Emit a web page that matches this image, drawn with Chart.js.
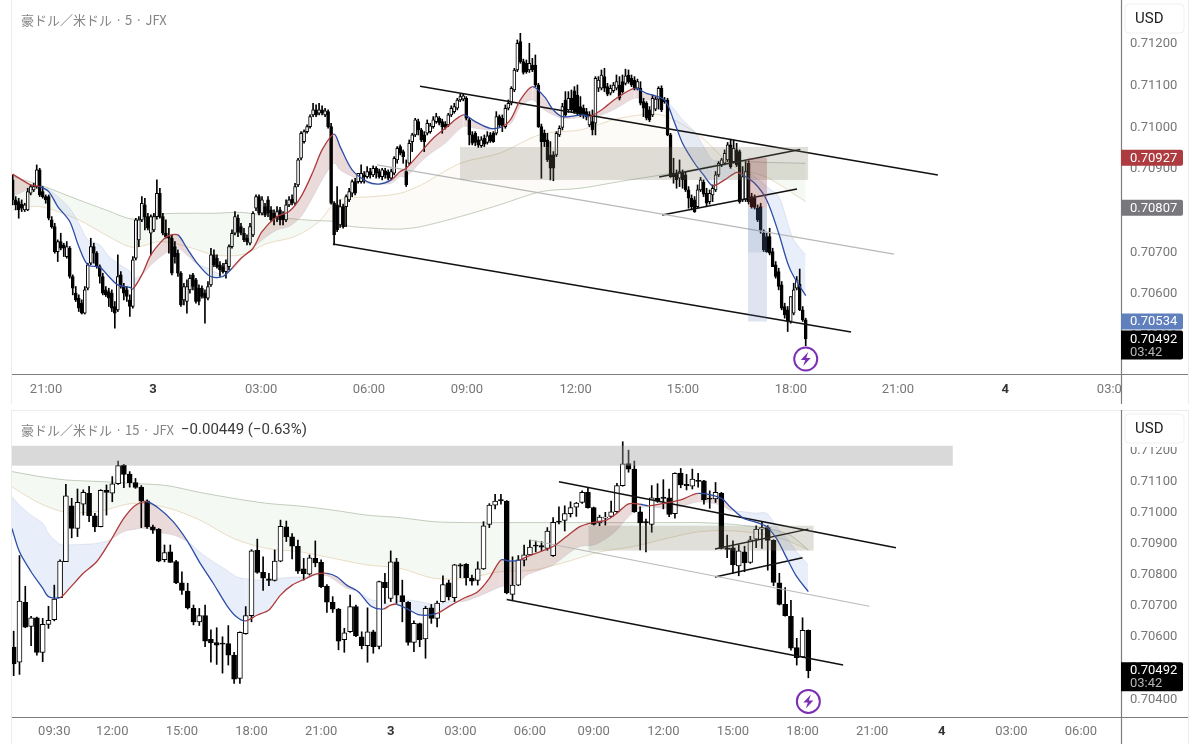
<!DOCTYPE html>
<html lang="ja">
<head>
<meta charset="utf-8">
<title>豪ドル／米ドル</title>
<script src="https://cdn.jsdelivr.net/npm/chart.js@4/dist/chart.umd.js"></script>
<style>
  html, body { margin: 0; background: #fff; overflow: hidden; }
  canvas { display: block; }
</style>
</head>
<body>
<canvas id="chart5" width="1200" height="404"></canvas>
<canvas id="chart15" width="1200" height="340"></canvas>
<script>
// all prices are in points, 1 point = 0.00001

// 5 minute candles
const open5 = [
  70874,70826,70822,70816,70802,70802,70842,70850,70858,70898,
  70846,70834,70834,70778,70762,70702,70726,70718,70690,70710,
  70642,70602,70590,70578,70554,70614,70674,70714,70698,70666,
  70642,70610,70606,70602,70570,70562,70646,70618,70610,70586,
  70570,70686,70730,70778,70814,70786,70746,70754,70786,70842,
  70786,70746,70738,70734,70714,70698,70650,70586,70582,70610,
  70646,70634,70614,70614,70602,70590,70622,70694,70686,70670,
  70666,70654,70666,70714,70746,70782,70762,70746,70734,70722,
  70742,70806,70834,70794,70810,70826,70802,70794,70786,70802,
  70790,70778,70814,70828,70818,70862,70926,70966,70990,71002,
  71030,71042,71034,71042,71030,71038,71002,70818,70814,70766,
  70810,70810,70826,70842,70870,70870,70870,70886,70882,70894,
  70886,70902,70894,70882,70896,70892,70878,70890,70922,70954,
  70942,70894,70914,70966,70982,71014,70994,70982,70986,70990,
  71002,71014,71022,71014,71008,71006,71030,71038,71046,71066,
  71068,71070,71018,70982,70986,70970,70956,70974,70964,70982,
  70986,70986,71026,71022,71002,71046,71058,71090,71138,71206,
  71158,71154,71138,71150,71150,71102,71002,70986,70970,70934,
  70934,70934,70982,71000,71066,71042,71070,71088,71078,71050,
  71046,71038,71006,71014,71010,71094,71094,71122,71098,71082,
  71088,71094,71102,71110,71106,71126,71118,71114,71094,71094,
  71062,71058,71042,71030,71044,71068,71094,71066,71066,70982,
  70890,70888,70878,70892,70886,70850,70830,70826,70810,70850,
  70868,70842,70822,70838,70850,70886,70910,70914,70922,70958,
  70918,70946,70942,70826,70826,70914,70834,70830,70806,70810,
  70746,70738,70738,70702,70670,70654,70622,70570,70562,70534,
  70554,70614,70624,70562,70538
];
const high5 = [
  70886,70834,70830,70826,70818,70854,70862,70866,70910,70902,
  70858,70838,70838,70786,70770,70730,70746,70722,70726,70714,
  70646,70618,70598,70586,70618,70674,70734,70722,70702,70670,
  70650,70618,70614,70610,70582,70694,70654,70626,70618,70598,
  70690,70782,70786,70834,70830,70794,70790,70794,70874,70854,
  70794,70778,70758,70742,70726,70706,70654,70626,70634,70646,
  70650,70638,70622,70620,70610,70630,70710,70706,70694,70678,
  70674,70682,70718,70754,70798,70790,70770,70758,70742,70770,
  70798,70838,70838,70834,70818,70834,70810,70802,70810,70808,
  70798,70826,70834,70838,70866,70926,70990,70994,71006,71030,
  71058,71054,71058,71052,71046,71042,71010,70822,70858,70826,
  70816,70838,70854,70874,70878,70890,70910,70894,70906,70902,
  70908,70906,70900,70902,70902,70898,70900,70930,70954,70958,
  70946,70922,70970,70986,71022,71020,70998,70990,71018,71010,
  71026,71034,71026,71020,71014,71034,71052,71058,71070,71080,
  71080,71074,71022,70990,70990,70978,70978,70982,70990,70988,
  70990,71038,71030,71030,71054,71066,71098,71142,71210,71226,
  71164,71162,71202,71166,71174,71106,71008,70994,70986,70966,
  70942,70990,71004,71058,71086,71086,71090,71098,71102,71074,
  71054,71046,71038,71042,71122,71122,71138,71142,71106,71102,
  71108,71126,71122,71126,71140,71138,71126,71122,71116,71110,
  71070,71062,71050,71078,71074,71098,71100,71072,71070,70986,
  70926,70898,70922,70898,70894,70858,70838,70834,70862,70880,
  70874,70854,70850,70862,70894,70918,70926,70946,70964,70972,
  70970,70962,70946,70906,70918,70920,70842,70838,70814,70818,
  70754,70746,70758,70710,70678,70662,70630,70578,70570,70594,
  70626,70642,70660,70570,70542
];
const low5 = [
  70814,70802,70782,70798,70798,70800,70838,70846,70854,70834,
  70830,70818,70778,70758,70698,70678,70706,70690,70686,70638,
  70598,70582,70558,70552,70552,70610,70670,70674,70662,70626,
  70598,70594,70570,70558,70518,70558,70614,70586,70582,70546,
  70566,70682,70714,70774,70754,70754,70694,70750,70780,70782,
  70742,70734,70698,70646,70674,70642,70570,70574,70554,70602,
  70610,70578,70574,70590,70530,70586,70618,70666,70662,70642,
  70650,70638,70658,70710,70742,70738,70742,70726,70718,70718,
  70738,70800,70790,70790,70786,70786,70774,70766,70774,70766,
  70766,70774,70810,70814,70814,70858,70922,70962,70986,70998,
  71026,71026,71030,71030,71026,70998,70816,70718,70750,70760,
  70758,70762,70822,70834,70838,70866,70866,70866,70878,70878,
  70882,70878,70878,70874,70878,70874,70874,70886,70914,70934,
  70914,70858,70910,70942,70978,70982,70966,70942,70982,70986,
  70998,71010,71006,70986,70996,71002,71026,71034,71042,71062,
  71064,71018,70958,70958,70956,70952,70952,70954,70960,70964,
  70964,70982,71002,70990,70998,71042,71054,71086,71134,71154,
  71128,71130,71132,71134,71098,71000,70878,70954,70918,70874,
  70872,70930,70978,70994,71026,71036,71036,71034,71030,71026,
  71022,71018,71002,70982,70982,71086,71090,71086,71076,71078,
  71084,71090,71066,71082,71102,71106,71098,71090,71090,71054,
  71026,71018,71014,71026,71040,71044,71038,71058,70980,70880,
  70866,70854,70858,70854,70846,70806,70802,70796,70806,70846,
  70834,70810,70816,70822,70846,70882,70906,70910,70918,70902,
  70914,70906,70818,70822,70822,70816,70806,70804,70774,70746,
  70702,70700,70694,70666,70638,70610,70562,70542,70510,70530,
  70550,70610,70560,70534,70476
];
const close5 = [
  70826,70814,70802,70806,70814,70846,70858,70858,70898,70838,
  70834,70826,70782,70762,70702,70726,70710,70710,70714,70642,
  70614,70586,70566,70554,70610,70670,70714,70698,70666,70642,
  70602,70598,70590,70566,70554,70642,70618,70602,70594,70570,
  70682,70778,70778,70818,70786,70758,70786,70786,70842,70786,
  70746,70738,70734,70650,70690,70650,70574,70618,70618,70638,
  70618,70582,70582,70594,70590,70618,70694,70670,70666,70658,
  70654,70674,70714,70746,70786,70750,70746,70730,70726,70762,
  70794,70834,70794,70826,70790,70794,70778,70782,70798,70778,
  70778,70814,70826,70818,70858,70922,70986,70990,71002,71026,
  71042,71030,71042,71034,71040,71002,70818,70742,70754,70810,
  70762,70834,70846,70870,70842,70890,70890,70882,70894,70886,
  70902,70890,70882,70898,70886,70878,70894,70926,70950,70938,
  70930,70862,70962,70982,71018,70994,70970,70966,71010,71004,
  71018,71026,71010,71002,71000,71030,71046,71050,71066,71074,
  71076,71022,70982,70962,70964,70958,70970,70960,70980,70968,
  70966,71026,71006,71004,71046,71058,71094,71138,71202,71158,
  71132,71134,71154,71138,71102,71002,70966,70966,70922,70902,
  70902,70986,70998,71050,71030,71070,71042,71038,71034,71030,
  71030,71026,71030,70994,71118,71114,71126,71094,71080,71094,
  71102,71110,71070,71086,71124,71110,71102,71094,71110,71058,
  71046,71022,71018,71070,71068,71094,71042,71062,70982,70882,
  70882,70874,70894,70874,70850,70830,70810,70798,70850,70874,
  70840,70818,70842,70854,70886,70914,70922,70938,70958,70906,
  70950,70910,70822,70882,70894,70822,70810,70808,70778,70754,
  70706,70702,70698,70666,70642,70618,70566,70550,70534,70594,
  70610,70634,70562,70538,70492
];

// 5 minute moving averages, x is the bar number
const ribbonX5 = [
  0,6,9,12,15,19,22,25,29,32,35,39,40,43,46,50,52,55,58,61,65,67,70,73,76,80,83,88,92,96,100,103,107,109,113,118,122,126,129,
  131,136,140,144,150,154,159,163,166,169,173,177,180,183,187,190,192,196,201,207,211,217,220,223,227,230,233,237,241,243,247,251,255,258,260,264
];
const fast5 = [
  70888,70862,70858,70846,70810,70774,70714,70670,70664,70642,70622,70616,70612,70646,70694,70730,70740,70742,70710,70678,70646,70640,70642,70662,70686,70710,70750,70786,70798,70834,70894,70946,70984,70954,70898,70870,70864,70874,70894,
  70902,70942,70974,70998,71030,71014,70998,71002,71022,71066,71098,71074,71042,71026,71028,71030,71026,71042,71070,71094,71082,71066,71018,70962,70914,70886,70860,70874,70892,70886,70866,70826,70746,70674,70642,70596
];
const slow5 = [
  70834,70854,70858,70850,70834,70806,70770,70730,70718,70690,70674,70654,70638,70646,70670,70694,70702,70710,70694,70674,70662,70654,70646,70658,70682,70710,70730,70754,70762,70786,70834,70874,70914,70898,70882,70866,70864,70866,70882,
  70882,70918,70942,70962,71002,70998,70994,71002,71010,71050,71066,71042,71030,71022,71022,71026,71026,71030,71046,71070,71066,71062,71046,71018,70990,70954,70922,70918,70894,70898,70882,70858,70834,70770,70730,70694
];
const trend5 = [
  1,1,-1,-1,-1,-1,-1,-1,-1,-1,-1,-1,1,1,1,1,1,-1,-1,-1,-1,-1,-1,1,1,1,1,1,1,1,1,1,-1,-1,-1,-1,-1,1,1,
  1,1,1,1,-1,-1,-1,1,1,1,-1,-1,-1,-1,-1,-1,1,1,1,-1,-1,-1,-1,-1,-1,-1,1,1,1,-1,-1,-1,-1,-1,-1,-1
];
const cloudX5 = [0,9,22,31,40,49,58,67,76,85,94,102,107,111,120,129,136,149,162,176,189,202,216,229,240,251,264];
const sage5 = [70882,70862,70826,70802,70780,70792,70794,70794,70796,70788,70780,70776,70774,70764,70758,70756,70762,70786,70814,70846,70854,70870,70886,70902,70918,70916,70914];
const tan5 = [70802,70810,70778,70742,70712,70726,70714,70694,70694,70722,70738,70774,70818,70830,70834,70842,70862,70914,70938,70984,70994,71022,71030,70978,70906,70880,70822];

// 5 minute drawings: trend lines and zones
const lineX5 = [[135.6,308],[106.6,279.1],[121.3,293.4],[215.2,262.2],[216.2,261.1]];
const lineY5 = [[71099,70886],[70720,70509],[70910,70696],[70881,70947],[70790,70852]];
const zoneX5 = [[148.9,264.8],[244.8,251.1],[244.8,251.1],[244.8,251.1]];
const zoneY5 = [[70953,70874],[70927,70807],[70807,70534],[70807,70700]];

const tickX5 = [11.1,46.7,82.7,118.6,151.2,187.4,223.1,259.1,294.7,330.4,366.3];
const tickTime5 = ["21:00","3","03:00","06:00","09:00","12:00","15:00","18:00","21:00","4","03:00"];
const tickPrice5 = [71200,71100,71000,70900,70800,70700,70600,70500];

// 15 minute candles
const open15 = [
  70568,70519,70712,70634,70662,70551,70641,70656,70727,70842,
  71022,70949,71027,71062,70990,70955,71072,71063,71093,71153,
  71124,71097,71081,71038,70954,70946,70849,70874,70843,70774,
  70748,70692,70649,70669,70593,70582,70581,70579,70542,70467,
  70611,70669,70879,70808,70787,70782,70844,70954,70922,70892,
  70819,70802,70853,70840,70764,70712,70690,70592,70617,70698,
  70601,70572,70617,70570,70776,70724,70842,70733,70712,70583,
  70643,70594,70694,70660,70714,70774,70727,70832,70834,70789,
  70782,70819,70962,71024,71042,71037,70737,70767,70847,70864,
  70896,70894,70885,70862,70973,70975,70997,71018,71033,71065,
  71016,70967,70982,70988,71003,71087,71158,71140,71003,70971,
  70962,71046,71050,71048,70997,71127,71091,71085,71104,71102,
  71046,71044,71063,70887,70887,70829,70874,70840,70915,70947,
  70952,70911,70774,70705,70667,70566,70536,70622
];
const high15 = [
  70619,70862,70763,70667,70664,70660,70699,70767,70848,71091,
  71046,71076,71073,71085,70998,71074,71089,71116,71166,71155,
  71132,71110,71087,71041,70960,70949,70896,70896,70847,70810,
  70773,70703,70692,70703,70623,70630,70601,70637,70551,70617,
  70698,70881,70915,70858,70805,70880,70976,70973,70933,70912,
  70853,70864,70909,70848,70769,70730,70692,70628,70735,70703,
  70617,70694,70622,70780,70805,70877,70853,70783,70714,70652,
  70645,70699,70705,70716,70797,70783,70834,70836,70836,70799,
  70842,70971,71029,71059,71059,71039,70858,70862,70896,70912,
  70909,70907,70952,70984,71019,71022,71035,71033,71070,71080,
  71018,70992,71001,71037,71094,71228,71201,71166,71019,70979,
  71087,71093,71106,71076,71128,71142,71123,71140,71126,71104,
  71070,71097,71065,70928,70909,70896,70892,70924,70958,70969,
  70958,70913,70805,70759,70718,70596,70662,70623
];
const low15 = [
  70476,70480,70630,70572,70542,70521,70628,70652,70727,70842,
  70919,70923,70992,70971,70939,70954,70992,71035,71091,71080,
  71082,71078,70952,70949,70933,70842,70842,70840,70772,70737,
  70690,70639,70637,70569,70519,70512,70484,70510,70451,70451,
  70609,70649,70805,70750,70765,70780,70842,70907,70851,70805,
  70783,70799,70826,70759,70679,70679,70559,70551,70615,70601,
  70562,70519,70548,70562,70708,70714,70708,70649,70574,70553,
  70569,70532,70644,70633,70712,70719,70714,70791,70767,70767,
  70767,70817,70952,71012,71027,70739,70719,70765,70829,70862,
  70874,70877,70879,70859,70964,70941,70986,70988,71030,71014,
  70960,70958,70960,70986,71001,71085,71130,71001,70880,70874,
  70937,71033,71012,70987,70982,71080,71073,71076,71082,71027,
  71014,71033,70883,70855,70805,70797,70810,70837,70887,70885,
  70815,70765,70703,70667,70558,70510,70534,70469
];
const close15 = [
  70514,70716,70632,70662,70551,70641,70654,70722,70844,71054,
  70949,71033,71065,70990,70954,71072,71065,71093,71151,71123,
  71096,71081,71037,70954,70944,70844,70872,70840,70774,70750,
  70694,70649,70669,70587,70581,70574,70577,70542,70465,70615,
  70669,70877,70808,70789,70782,70844,70956,70922,70892,70812,
  70804,70855,70838,70762,70712,70690,70587,70614,70698,70604,
  70572,70617,70569,70778,70759,70842,70735,70714,70583,70644,
  70592,70692,70660,70709,70769,70729,70832,70828,70791,70780,
  70819,70958,71024,71037,71038,70742,70767,70848,70864,70889,
  70892,70889,70941,70969,70969,70997,71016,71031,71065,71016,
  70962,70986,70986,71003,71087,71157,71140,71003,70967,70967,
  71048,71037,71046,70994,71126,71089,71087,71108,71100,71041,
  71043,71065,70885,70882,70832,70877,70838,70913,70947,70952,
  70911,70776,70705,70669,70564,70534,70622,70492
];

// 15 minute moving averages
const ribbonX15 = [
  -0.3,1,3,5,6,8,9.5,12,14.3,16.6,19,21,23,25,27.5,30,32,34.4,36.7,38.4,40,42,44,46,48,50.5,52,54,55.7,57.4,59.4,61.7,63.7,65,66,
  67.7,70,73,75,77.5,80,82,84,85.6,87.3,88.4,90.7,93,95.3,97.6,100,102.2,104,106,108,109.4,112,115,118,122,123.5,125.8,128,129.8,131.5,133.3,135,137
];
const fast15 = [
  70949,70874,70810,70757,70730,70727,70754,70805,70842,70907,70982,71024,71035,71014,70971,70907,70842,70773,70703,70665,70652,70671,70687,70735,70767,70789,70802,70805,70794,70767,70746,70698,70690,70703,70705,
  70692,70671,70676,70698,70724,70746,70789,70848,70844,70848,70858,70874,70891,70923,70955,70969,70976,70998,71028,71027,71022,71030,71041,71062,71046,71019,70982,70969,70955,70917,70853,70794,70746
];
const slow15 = [
  71051,71024,70992,70966,70933,70898,70896,70898,70901,70912,70939,70947,70949,70937,70928,70907,70874,70842,70815,70794,70787,70783,70783,70789,70792,70794,70799,70797,70778,70757,70746,70719,70716,70703,70714,
  70719,70714,70703,70714,70714,70730,70746,70762,70767,70778,70799,70815,70832,70864,70891,70896,70917,70944,70987,71014,71019,71014,71019,71035,71024,71008,71003,70998,70998,70955,70917,70874,70832
];
const trend15 = [
  -1,-1,-1,-1,-1,1,1,1,1,1,1,1,-1,-1,-1,-1,-1,-1,-1,-1,1,1,1,1,1,1,1,-1,-1,-1,-1,-1,1,1,-1,
  -1,-1,1,1,1,1,1,-1,-1,1,1,1,1,1,1,1,1,1,1,-1,1,1,1,-1,-1,-1,-1,-1,-1,-1,-1,-1,-1
];
const cloudX15 = [-0.3,4.5,9.1,14.9,20.6,26.4,32.1,37.9,43.6,49.4,55.1,60.9,66.6,72.4,78.1,83.8,89.6,95.3,101.1,106.8,112.6,118.3,124.1,129.8,133.8,137];
const sage15 = [71132,71116,71105,71100,71094,71087,71065,71046,71030,71021,71008,70992,70984,70971,70968,70968,70968,70968,70968,70968,70968,70968,70962,70949,70928,70880];
const tan15 = [71083,71030,71001,71005,71030,71016,70976,70917,70885,70874,70853,70832,70821,70789,70789,70810,70815,70842,70874,70891,70917,70939,70941,70928,70907,70880];

// 15 minute drawings
const lineX15 = [[94,152.1],[85,143],[89,147.5],[120.9,137],[120.9,136]];
const lineY15 = [[71099,70887],[70721,70510],[70912,70699],[70883,70947],[70793,70855]];
const zoneX15 = [[-0.3,161.9],[99.1,137.9]];
const zoneY15 = [[71215,71151],[70958,70878]];

const tickX15 = [7,17,29,41,53,65,77,89,100,112,124,136,148,160,172,184];
const tickTime15 = ["09:30","12:00","15:00","18:00","21:00","3","03:00","06:00","09:00","12:00","15:00","18:00","21:00","4","03:00","06:00"];
const tickPrice15 = [71200,71100,71000,70900,70800,70700,70600,70500,70400];

const fontLatin = 'Roboto, "Liberation Sans", sans-serif';
const fontTitle = '"Noto Sans CJK JP", Roboto, sans-serif';
const blueLine = '#2c4da6', redLine = '#ae3a3c';

const fmtPrice = v => (v / 100000).toFixed(5);

function candleDatasets(open, high, low, close, bodyWidth) {
  const wicks = high.map((h, i) => ({ x: i, y: [low[i], h] }));
  const bodies = open.map((o, i) => ({ x: i, y: [o, close[i]] }));
  const fills = open.map((o, i) => close[i] > o ? '#fff' : '#000');
  return [
    { type: 'bar', data: wicks, order: 3, grouped: false, barThickness: 1, backgroundColor: '#000', borderWidth: 0 },
    { type: 'bar', data: bodies, order: 2, grouped: false, barThickness: bodyWidth, minBarLength: 1,
      backgroundColor: fills, borderColor: '#000', borderWidth: 1, borderSkipped: false }
  ];
}

function toPoints(xs, ys) {
  return xs.map((x, i) => ({ x, y: ys[i] }));
}

// plugin for everything the library has no element for: zones, frame, price tags, titles
function panelPlugin(p) {
  const tag = (ctx, y, h, color) => {
    ctx.fillStyle = color;
    ctx.beginPath();
    ctx.roundRect(1121, y, 62, h, [0, 2, 2, 0]);
    ctx.fill();
  };
  return {
    id: 'panel',
    afterDatasetsDraw(chart) {
      const { ctx, scales: { x, y } } = chart;
      ctx.save();
      p.zoneX.forEach((zx, i) => {
        const left = x.getPixelForValue(zx[0]), right = x.getPixelForValue(zx[1]);
        const top = y.getPixelForValue(p.zoneY[i][0]), bottom = y.getPixelForValue(p.zoneY[i][1]);
        ctx.fillStyle = p.zoneColors[i];
        ctx.fillRect(left, top, right - left, bottom - top);
      });
      ctx.restore();
    },
    afterDraw(chart) {
      const { ctx, scales: { x, y }, chartArea: area } = chart;
      const h = chart.height;
      ctx.save();

      // hide what runs past the price axis below the plot
      ctx.fillStyle = '#fff';
      ctx.fillRect(1122, area.bottom + 1, 78, h - area.bottom);

      // frame
      ctx.strokeStyle = '#ececec';
      ctx.lineWidth = 1;
      ctx.beginPath();
      ctx.moveTo(11.5, area.top);
      ctx.lineTo(11.5, h);
      ctx.moveTo(1188.5, area.top);
      ctx.lineTo(1188.5, h);
      if (p.topRule) {
        ctx.moveTo(12, area.top + 0.5);
        ctx.lineTo(1188, area.top + 0.5);
      }
      ctx.stroke();
      ctx.strokeStyle = '#7d7d7d';
      ctx.lineWidth = 1.2;
      ctx.beginPath();
      ctx.moveTo(12, area.bottom + 0.5);
      ctx.lineTo(1188, area.bottom + 0.5);
      ctx.moveTo(1121.5, area.top);
      ctx.lineTo(1121.5, h);
      ctx.stroke();

      // price tags
      ctx.textBaseline = 'middle';
      ctx.font = '13px ' + fontLatin;
      p.tagPrices.forEach((v, i) => {
        const py = y.getPixelForValue(v);
        tag(ctx, py - 8, 16, p.tagColors[i]);
        ctx.fillStyle = '#fff';
        ctx.fillText(fmtPrice(v), 1130, py + 0.5);
      });
      const last = y.getPixelForValue(p.lastPrice);
      tag(ctx, last - 8.5, 29, '#000');
      ctx.fillStyle = '#fff';
      ctx.fillText(fmtPrice(p.lastPrice), 1130, last + 0.5);
      ctx.fillStyle = '#b5b5b5';
      ctx.fillText(p.countdown, 1130, last + 13.5);

      // currency button, its white backing also covers the top of a price label
      ctx.fillStyle = '#fff';
      ctx.fillRect(1123, p.usdTop, 64, 33);
      ctx.strokeStyle = '#f0f0f0';
      ctx.beginPath();
      ctx.roundRect(1125, p.usdTop, 59, 29, 4);
      ctx.fill();
      ctx.lineWidth = 1;
      ctx.stroke();
      ctx.fillStyle = '#222';
      ctx.font = '15px ' + fontLatin;
      ctx.fillText('USD', 1135, p.usdTop + 15);

      // header
      ctx.font = '13px ' + fontTitle;
      ctx.fillStyle = '#858585';
      ctx.fillText(p.title, 21, p.titleY);
      if (p.change) {
        ctx.font = '15px ' + fontLatin;
        ctx.fillStyle = '#3a3a3a';
        ctx.fillText(p.change, 181, p.titleY);
      }

      // lightning marker under the last bar
      const mx = x.getPixelForValue(p.markerBar), my = y.getPixelForValue(p.markerPrice);
      ctx.strokeStyle = '#7b2fb3';
      ctx.lineWidth = 2;
      ctx.beginPath();
      ctx.arc(mx, my, 11.5, 0, Math.PI * 2);
      ctx.stroke();
      ctx.fillStyle = '#7b2fb3';
      ctx.beginPath();
      ctx.moveTo(mx + 2.5, my - 7);
      ctx.lineTo(mx - 5, my + 1);
      ctx.lineTo(mx - 0.5, my + 1);
      ctx.lineTo(mx - 2.5, my + 7);
      ctx.lineTo(mx + 5, my - 1);
      ctx.lineTo(mx + 0.5, my - 1);
      ctx.closePath();
      ctx.fill();
      ctx.restore();
    }
  };
}

function drawChart(id, p) {
  const datasets = [
    { type: 'line', data: toPoints(p.cloudX, p.sage), order: 6, borderColor: 'rgba(165,180,155,0.65)', borderWidth: 1,
      pointRadius: 0, tension: 0.3, fill: { target: 1, above: 'rgba(205,225,195,0.2)', below: 'rgba(235,225,195,0.14)' } },
    { type: 'line', data: toPoints(p.cloudX, p.tan), order: 5, borderColor: 'rgba(222,198,160,0.6)', borderWidth: 1,
      pointRadius: 0, tension: 0.3 },
    { type: 'line', data: toPoints(p.ribbonX, p.slow), order: 4, borderColor: 'rgba(175,180,205,0.3)', borderWidth: 1,
      pointRadius: 0, tension: 0.3, fill: { target: 5, above: 'rgba(120,155,225,0.16)', below: 'rgba(165,85,85,0.22)' } },
    ...candleDatasets(p.open, p.high, p.low, p.close, p.bodyWidth),
    { type: 'line', data: toPoints(p.ribbonX, p.fast), order: 0, borderWidth: 1.3, pointRadius: 0, tension: 0.3,
      borderColor: blueLine,
      segment: { borderColor: c => p.trend[c.p0DataIndex] > 0 ? redLine : blueLine } }
  ];
  p.lineX.forEach((lx, i) => {
    const isMid = i === 2;
    datasets.push({
      type: 'line', order: 1, pointRadius: 0,
      data: toPoints(lx, p.lineY[i]),
      borderColor: isMid ? '#b9b9b9' : '#111',
      borderWidth: isMid ? 1.2 : 1.5
    });
  });

  new Chart(document.getElementById(id), {
    type: 'bar',
    data: { datasets },
    plugins: [panelPlugin(p)],
    options: {
      responsive: false,
      animation: false,
      events: [],
      layout: { autoPadding: false, padding: { left: 12, right: 0, top: p.paddingTop, bottom: 0 } },
      plugins: { legend: { display: false }, tooltip: { enabled: false } },
      scales: {
        x: {
          type: 'linear',
          offset: false,
          min: p.xMin,
          max: p.xMax,
          grid: { display: false, drawTicks: false },
          border: { display: false },
          afterBuildTicks: s => { s.ticks = p.tickX.map(value => ({ value })); },
          // no extra margin for labels, the plot area is fixed
          afterFit: s => { s.height = p.axisHeight; s.paddingLeft = 0; s.paddingRight = 0; },
          ticks: {
            autoSkip: false,
            maxRotation: 0,
            padding: p.xPadding,
            callback: v => p.tickTime[p.tickX.indexOf(v)],
            color: c => (c.tick && p.tickTime[p.tickX.indexOf(c.tick.value)].length === 1) ? '#333' : '#777',
            font: c => ({
              family: fontLatin,
              size: 13,
              weight: (c.tick && p.tickTime[p.tickX.indexOf(c.tick.value)].length === 1) ? 'bold' : 'normal'
            })
          }
        },
        y: {
          position: 'right',
          min: p.yMin,
          max: p.yMax,
          grid: { display: false, drawTicks: false },
          border: { display: false },
          afterBuildTicks: s => { s.ticks = p.tickPrice.map(value => ({ value })); },
          afterFit: s => { s.width = 79; s.paddingTop = 0; s.paddingBottom = 0; },
          ticks: {
            padding: 9,
            color: '#777',
            font: { family: fontLatin, size: 13 },
            callback: v => fmtPrice(v)
          }
        }
      }
    }
  });
}

drawChart('chart5', {
  open: open5, high: high5, low: low5, close: close5, bodyWidth: 3,
  ribbonX: ribbonX5, fast: fast5, slow: slow5, trend: trend5,
  cloudX: cloudX5, sage: sage5, tan: tan5,
  lineX: lineX5, lineY: lineY5,
  zoneX: zoneX5, zoneY: zoneY5,
  zoneColors: ['rgba(125,120,100,0.24)', 'rgba(150,70,70,0.3)', 'rgba(90,125,185,0.2)', 'rgba(60,85,130,0.1)'],
  tickX: tickX5, tickTime: tickTime5, tickPrice: tickPrice5,
  xMin: -0.23, xMax: 368.96, yMin: 70408, yMax: 71306,
  paddingTop: 0, axisHeight: 30, xPadding: 8,
  tagPrices: [70927, 70807, 70534], tagColors: ['#ad3b3f', '#77777c', '#5f7fbd'],
  lastPrice: 70492, countdown: '03:42',
  usdTop: 4, title: '豪ドル／米ドル · 5 · JFX', titleY: 20,
  markerBar: 264, markerPrice: 70444
});

drawChart('chart15', {
  open: open15, high: high15, low: low15, close: close15, bodyWidth: 5,
  ribbonX: ribbonX15, fast: fast15, slow: slow15, trend: trend15,
  cloudX: cloudX15, sage: sage15, tan: tan15,
  lineX: lineX15, lineY: lineY15,
  zoneX: zoneX15, zoneY: zoneY15,
  zoneColors: ['rgba(160,160,160,0.4)', 'rgba(125,120,100,0.24)'],
  tickX: tickX15, tickTime: tickTime15, tickPrice: tickPrice15,
  xMin: -0.29, xMax: 190.9, yMin: 70343, yMax: 71330,
  paddingTop: 6, axisHeight: 27, xPadding: 7, topRule: true,
  tagPrices: [], tagColors: [],
  lastPrice: 70492, countdown: '03:42',
  usdTop: 10, title: '豪ドル／米ドル · 15 · JFX', titleY: 26,
  change: '−0.00449 (−0.63%)',
  markerBar: 137, markerPrice: 70393
});
</script>
</body>
</html>
